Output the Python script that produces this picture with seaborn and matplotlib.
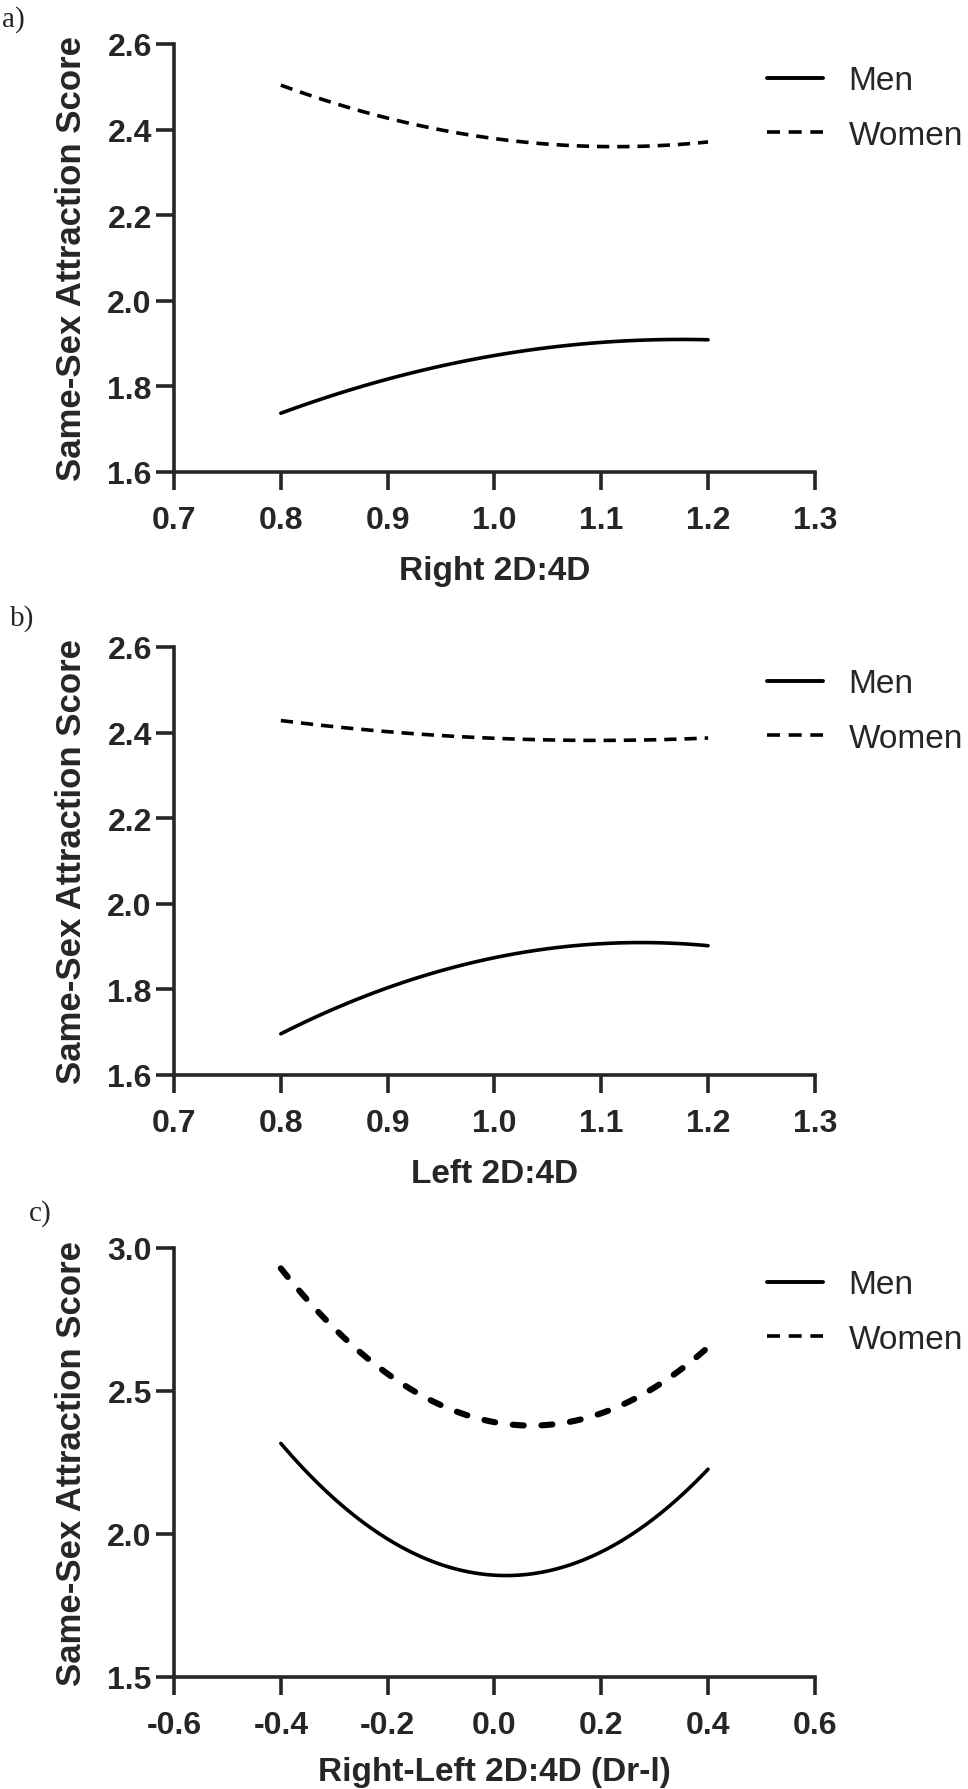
import numpy as np
import pandas as pd
import seaborn as sns
import matplotlib.pyplot as plt
from matplotlib.lines import Line2D

# panel a: right 2D:4D
right_x = [0.80, 0.85, 0.90, 0.95, 1.00, 1.05, 1.10, 1.15, 1.20]
right_men = [1.736, 1.780, 1.819, 1.848, 1.872, 1.889, 1.902, 1.908, 1.910]
right_women = [2.504, 2.462, 2.426, 2.398, 2.379, 2.367, 2.361, 2.361, 2.371]

# panel b: left 2D:4D
left_x = [0.80, 0.85, 0.90, 0.95, 1.00, 1.05, 1.10, 1.15, 1.20]
left_men = [1.695, 1.755, 1.805, 1.845, 1.874, 1.893, 1.905, 1.911, 1.902]
left_women = [2.429, 2.413, 2.401, 2.393, 2.388, 2.384, 2.381, 2.382, 2.388]

# panel c: right-left difference
diff_x = [-0.40, -0.35, -0.30, -0.25, -0.20, -0.15, -0.10, -0.05, 0.00,
          0.05, 0.10, 0.15, 0.20, 0.25, 0.30, 0.35, 0.40]
diff_men = [2.309, 2.215, 2.128, 2.050, 1.982, 1.930, 1.895, 1.870, 1.857,
            1.855, 1.868, 1.894, 1.933, 1.988, 2.058, 2.138, 2.227]
diff_women = [2.918, 2.822, 2.730, 2.640, 2.558, 2.497, 2.447, 2.410, 2.386,
              2.372, 2.374, 2.395, 2.430, 2.473, 2.523, 2.578, 2.638]

panel_letters = ["a)", "b)", "c)"]
x_labels = ["Right 2D:4D", "Left 2D:4D", "Right-Left 2D:4D (Dr-l)"]
y_label = "Same-Sex Attraction Score"
series_names = ["Men", "Women"]

x_ticks_ab = [0.7, 0.8, 0.9, 1.0, 1.1, 1.2, 1.3]
y_ticks_ab = [1.6, 1.8, 2.0, 2.2, 2.4, 2.6]
x_ticks_c = [-0.6, -0.4, -0.2, 0.0, 0.2, 0.4, 0.6]
x_ticklabels_c = ["-0.6", "-0.4", "-0.2", "0.0", "0.2", "0.4", "0.6"]
y_ticks_c = [1.5, 2.0, 2.5, 3.0]

sns.set_style("ticks")
plt.rcParams["font.family"] = ["Liberation Sans", "DejaVu Sans"]

fig = plt.figure(figsize=(9.68, 17.9), dpi=100)
ax_a = fig.add_axes([0.1798, 0.7358, 0.662, 0.2391])
ax_b = fig.add_axes([0.1798, 0.3989, 0.662, 0.2391])
ax_c = fig.add_axes([0.1798, 0.0626, 0.662, 0.2397])

panels = [
    (ax_a, right_x, right_men, right_women, 2.6, (0, (3.4, 2.2)), "butt", 14),
    (ax_b, left_x, left_men, left_women, 2.6, (0, (3.4, 2.2)), "butt", 14),
    (ax_c, diff_x, diff_men, diff_women, 4.4, (0, (1.8, 2.9)), "round", 11),
]

for i, (ax, xs, men, women, w_lw, w_ls, cap, lpad) in enumerate(panels):
    # quadratic trend lines, as in the source figure
    sns.regplot(x=np.array(xs), y=np.array(men), order=2, ci=None, scatter=False,
                color="black", line_kws={"lw": 2.6}, ax=ax)
    sns.regplot(x=np.array(xs), y=np.array(women), order=2, ci=None, scatter=False,
                color="black", line_kws={"lw": w_lw}, ax=ax)
    ax.lines[-1].set_linestyle(w_ls)
    ax.lines[-1].set_dash_capstyle(cap)

    if i < 2:
        ax.set_xlim(0.7, 1.3)
        ax.set_ylim(1.6, 2.6)
        ax.set_xticks(x_ticks_ab)
        ax.set_xticklabels([f"{t:.1f}" for t in x_ticks_ab])
        ax.set_yticks(y_ticks_ab)
        ax.set_yticklabels([f"{t:.1f}" for t in y_ticks_ab])
    else:
        ax.set_xlim(-0.6, 0.6)
        ax.set_ylim(1.5, 3.0)
        ax.set_xticks(x_ticks_c)
        ax.set_xticklabels(x_ticklabels_c)
        ax.set_yticks(y_ticks_c)
        ax.set_yticklabels([f"{t:.1f}" for t in y_ticks_c])

    sns.despine(ax=ax)
    for s in ["left", "bottom"]:
        ax.spines[s].set_linewidth(2.6)
    ax.tick_params(length=13, width=2.6, labelsize=23)
    ax.tick_params(axis="x", pad=11)
    ax.tick_params(axis="y", pad=3)
    for lab in ax.get_xticklabels() + ax.get_yticklabels():
        lab.set_fontweight("bold")

    ax.set_xlabel(x_labels[i], fontsize=24, fontweight="bold", labelpad=lpad)
    ax.set_ylabel(y_label, fontsize=25, fontweight="bold", labelpad=14)

    handles = [
        Line2D([], [], color="black", lw=2.8),
        Line2D([], [], color="black", lw=2.6, linestyle=(0, (3.6, 2.4))),
    ]
    ax.legend(handles, series_names, loc="upper left", bbox_to_anchor=(0.925, 0.95),
              frameon=False, fontsize=24, handlelength=1.7, handletextpad=0.75,
              labelspacing=0.7, borderpad=0, borderaxespad=0)

letter_pos = [(0.002, 0.989), (0.010, 0.6547), (0.030, 0.322)]
for letter, (lx, ly) in zip(panel_letters, letter_pos):
    fig.text(lx, ly, letter, fontsize=21, family="Liberation Serif", va="center", ha="left")

fig.savefig("out.png", dpi=100, facecolor="white")
